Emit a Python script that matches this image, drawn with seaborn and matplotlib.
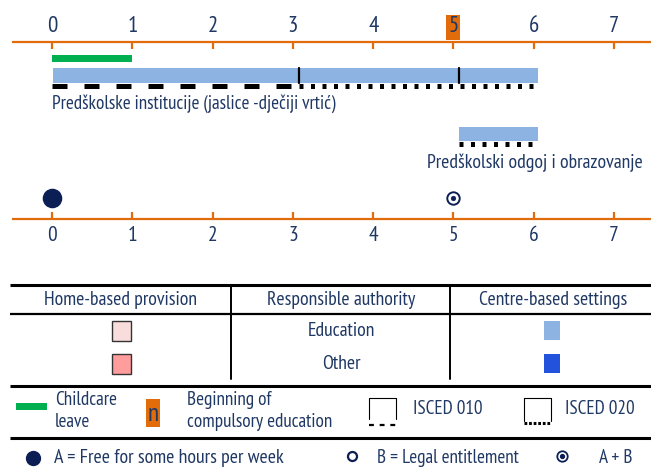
import matplotlib
matplotlib.use("Agg")
import matplotlib.pyplot as plt
from matplotlib import font_manager
import seaborn as sns
import pandas as pd
from matplotlib.patches import Rectangle

sns.set_theme(style="white")
_avail = set(f.name for f in font_manager.fontManager.ttflist)
_pref = ['Liberation Sans Narrow', 'Arial Narrow', 'PT Sans Narrow', 'Archivo Narrow',
         'Roboto Condensed', 'Asap Condensed', 'Barlow Semi Condensed', 'Liberation Sans']
FONT = next((f for f in _pref if f in _avail), 'DejaVu Sans')
plt.rcParams['font.family'] = [FONT, 'DejaVu Sans']

# ---- data ----
ages = [0, 1, 2, 3, 4, 5, 6, 7]
compulsory_age = 5
childcare_leave = [0.0, 1.0]

prog1_name = "Predškolske institucije (jaslice -dječiji vrtić)"
prog1_span = [0.0, 6.05]
prog1_breaks = [3.07, 5.07]
prog1_isced010 = [0.0, 3.07]
prog1_isced020 = [3.07, 6.05]

prog2_name = "Predškolski odgoj i obrazovanje"
prog2_span = [5.07, 6.05]
prog2_isced020 = [5.07, 6.05]

free_hours_ages = [0]      # A
entitlement_ages = []      # B
both_ages = [5]            # A + B

header_labels = ["Home-based provision", "Responsible authority", "Centre-based settings"]
authority_labels = ["Education", "Other"]

# ---- colours ----
ORANGE = "#E36C0A"
NAVY = "#1F3864"
DOT = "#0B1F55"
LBLUE = "#8DB3E2"
BLUE = "#2352DC"
GREEN = "#00B050"
PINK1 = "#F9DCDC"
PINK2 = "#FF9C9C"

W, H = 651, 473
fig = plt.figure(figsize=(W / 100, H / 100), dpi=100)

px_per_year = 80.3
x0_px = 52
ax = fig.add_axes([0, 0, 1, 1])
XL = (-x0_px / px_per_year, (W - x0_px) / px_per_year)
ax.set_xlim(*XL)
ax.set_ylim(H, 0)
ax.axis("off")
xmin_line = (12 - x0_px) / px_per_year
xmax_line = XL[1]

FS = 14.2     # programme labels, table
LFS = 13.8    # legend

def axis_row(y_line, tick_dir, y_lab, fs):
    ax.plot([xmin_line, xmax_line], [y_line, y_line], color=ORANGE, lw=1.6,
            solid_capstyle="butt", zorder=2)
    for a in ages:
        ax.plot([a, a], [y_line, y_line + tick_dir * 7], color=ORANGE, lw=1.6,
                solid_capstyle="butt", zorder=2)
        ax.text(a, y_lab, str(a), ha="center", va="center", fontsize=fs,
                color=NAVY, zorder=4)

axis_row(42, 1, 27, 16.5)
axis_row(219, -1, 235, 15.5)

# compulsory education highlight
ax.add_patch(Rectangle((compulsory_age - 7 / px_per_year, 15), 14 / px_per_year, 25,
                       facecolor=ORANGE, edgecolor="none", zorder=3))

# childcare leave
ax.add_patch(Rectangle((childcare_leave[0], 55), childcare_leave[1] - childcare_leave[0], 7,
                       facecolor=GREEN, edgecolor="none", zorder=3))

# programme 1
ax.add_patch(Rectangle((prog1_span[0] + 0.01, 68), prog1_span[1] - prog1_span[0] - 0.01, 15,
                       facecolor=LBLUE, edgecolor="none", zorder=3))
for b in prog1_breaks:
    ax.plot([b, b], [68, 83], color="black", lw=1.6, zorder=4)
ax.plot(prog1_isced010, [86.5, 86.5], color="black", lw=3.6,
        dashes=(3.0, 3.4), dash_capstyle="butt", zorder=3)
ax.plot(prog1_isced020, [86.5, 86.5], color="black", lw=3.6,
        dashes=(0.8, 1.5), dash_capstyle="butt", zorder=3)
ax.text(prog1_span[0], 104, prog1_name, ha="left", va="center", fontsize=13.8, color=NAVY)

# programme 2
ax.add_patch(Rectangle((prog2_span[0], 127), prog2_span[1] - prog2_span[0], 14,
                       facecolor=LBLUE, edgecolor="none", zorder=3))
ax.plot(prog2_isced020, [144.5, 144.5], color="black", lw=3.6,
        dashes=(0.8, 1.5), dash_capstyle="butt", zorder=3)
ax.text((643 - x0_px) / px_per_year, 163, prog2_name, ha="right", va="center",
        fontsize=FS, color=NAVY)

# availability markers
pts = pd.DataFrame({"age": free_hours_ages, "y": [198] * len(free_hours_ages)})
sns.scatterplot(data=pts, x="age", y="y", ax=ax, s=170, color=DOT, edgecolor=DOT,
                legend=False, zorder=5)
both = pd.DataFrame({"age": both_ages, "y": [198] * len(both_ages)})
sns.scatterplot(data=both, x="age", y="y", ax=ax, s=80, facecolor="white",
                edgecolor=DOT, linewidth=1.4, legend=False, zorder=5)
sns.scatterplot(data=both, x="age", y="y", ax=ax, s=12, color=DOT, edgecolor=DOT,
                legend=False, zorder=6)
ax.set_xlabel("")
ax.set_ylabel("")
ax.set_xlim(*XL)
ax.set_ylim(H, 0)

# ---- table & legend in pixel coordinates ----
lx = fig.add_axes([0, 0, 1, 1], facecolor="none")
lx.set_xlim(0, W)
lx.set_ylim(H, 0)
lx.axis("off")

def hline(y, lw):
    lx.plot([10, W], [y, y], color="black", lw=lw, solid_capstyle="butt")

hline(285, 2.2)
hline(314, 1.6)
for xv in [231, 450]:
    lx.plot([xv, xv], [285, 379], color="black", lw=1.4)
for xc, lab in zip([121, 341, 553], header_labels):
    lx.text(xc, 300, lab, ha="center", va="center", fontsize=FS, color=NAVY)
row_y = [331, 364]
for yv, lab, pk, bl in zip(row_y, authority_labels, [PINK1, PINK2], [LBLUE, BLUE]):
    lx.text(341, yv, lab, ha="center", va="center", fontsize=FS, color=NAVY)
    lx.add_patch(Rectangle((112, yv - 10), 19, 20, facecolor=pk, edgecolor="#333333", lw=1.0))
    lx.add_patch(Rectangle((544, yv - 10), 16, 19, facecolor=bl, edgecolor="none"))

hline(386, 2.2)
hline(438, 2.2)

# legend row 1
lx.add_patch(Rectangle((16, 403), 31, 7, facecolor=GREEN, edgecolor="none"))
lx.text(55, 411, "Childcare\nleave", ha="left", va="center", fontsize=LFS, color=NAVY,
        linespacing=1.25)
lx.add_patch(Rectangle((146, 399), 14, 28, facecolor=ORANGE, edgecolor="none"))
lx.text(153, 414, "n", ha="center", va="center", fontsize=18, color=NAVY)
lx.text(187, 411, "Beginning of\ncompulsory education", ha="left", va="center",
        fontsize=LFS, color=NAVY, linespacing=1.25)
# ISCED 010 icon
lx.plot([369, 369, 396, 396], [419, 398, 398, 419], color="black", lw=0.8)
lx.plot([369, 396], [425, 425], color="black", lw=1.6, dashes=(2.2, 2.6))
lx.text(413, 409, "ISCED 010", ha="left", va="center", fontsize=LFS, color=NAVY)
# ISCED 020 icon
lx.plot([524, 524, 551, 551], [421, 398, 398, 421], color="black", lw=0.8)
lx.plot([524, 551], [423, 423], color="black", lw=2.2, dashes=(0.9, 0.6))
lx.text(565, 409, "ISCED 020", ha="left", va="center", fontsize=LFS, color=NAVY)

# legend row 2
lx.plot([33], [458], "o", ms=10, color=DOT)
lx.text(54, 458, "A = Free for some hours per week", ha="left", va="center",
        fontsize=14.4, color=NAVY)
lx.plot([352], [456], "o", ms=6.5, mfc="white", mec=DOT, mew=1.6)
lx.text(377, 458, "B = Legal entitlement", ha="left", va="center", fontsize=LFS,
        color=NAVY)
lx.plot([562], [456], "o", ms=7.5, mfc="white", mec=DOT, mew=1.3)
lx.plot([562], [456], "o", ms=2.8, color=DOT)
lx.text(599, 458, "A + B", ha="left", va="center", fontsize=LFS, color=NAVY)

fig.savefig("out.png", dpi=100)
